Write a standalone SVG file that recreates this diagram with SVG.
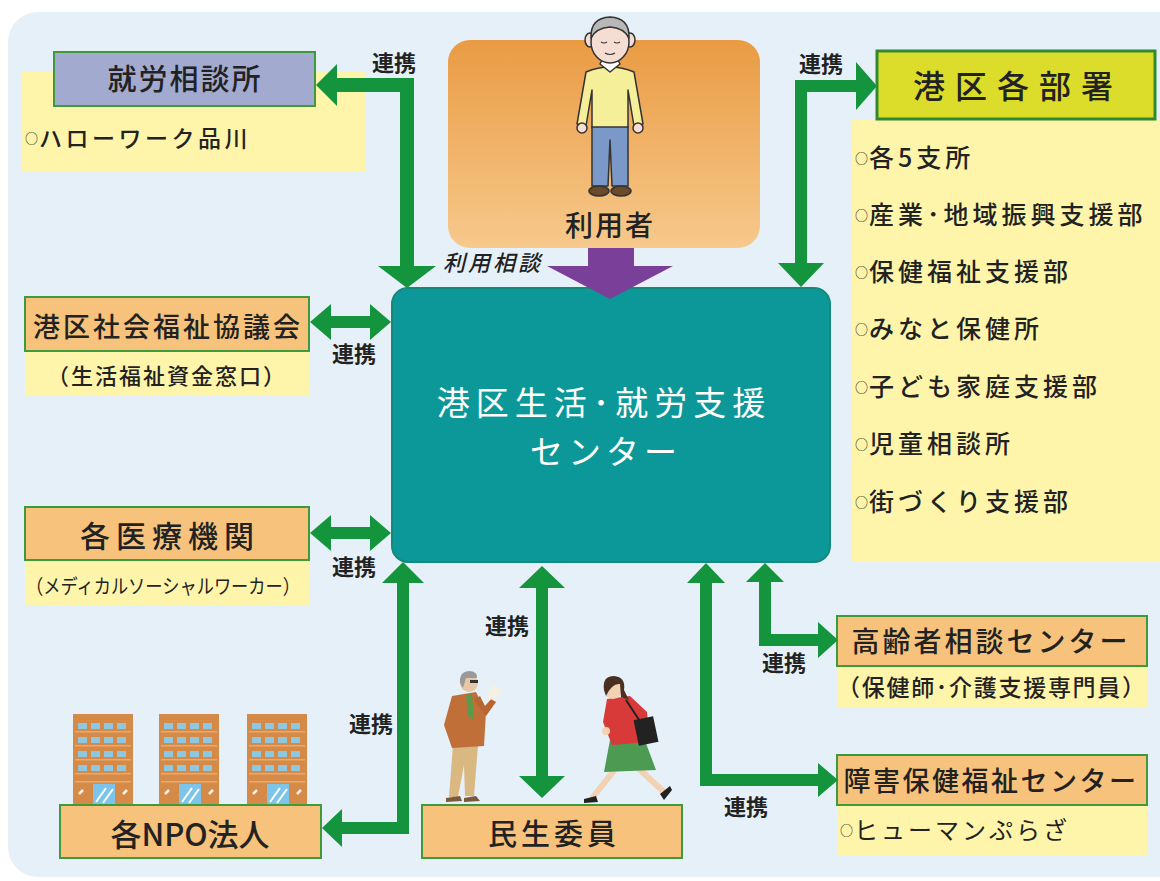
<svg xmlns="http://www.w3.org/2000/svg" width="1160" height="881" viewBox="0 0 1160 881">
  <defs>
    <style>
      text { font-family: "Noto Sans CJK JP", "Noto Sans", sans-serif; fill: #222; }
      .bg { fill: #e6f0f8; }
      .panel { fill: #fff5aa; }
      .box { fill: #f7c27b; stroke: #3f9a3c; stroke-width: 2; }
      .box-blue { fill: #a2aad0; stroke: #3f9a3c; stroke-width: 2; }
      .box-lime { fill: #dcdc2a; stroke: #2f8a30; stroke-width: 3; }
      .link { fill: #14943c; }
      .lbl { font-size: 22px; font-weight: bold; text-anchor: middle; }
      .title { text-anchor: middle; font-weight: 500; }
      .item { font-size: 25px; letter-spacing: 4px; font-weight: 500; }
      .dot { font-size: 13px; letter-spacing: 1px; font-weight: 400; }
      .center-t { fill: #ffffff; font-size: 33px; text-anchor: middle; }
    </style>
    <linearGradient id="userGrad" x1="0" y1="0" x2="0" y2="1">
      <stop offset="0" stop-color="#e99b43"/>
      <stop offset="1" stop-color="#f7c98c"/>
    </linearGradient>
    <!-- one office building, 60 x 90 -->
    <g id="bldg">
      <rect x="0" y="0" width="60" height="90" fill="#d58a48"/>
      <g fill="#e9aa6c">
        <rect x="2" y="17" width="56" height="1.5"/>
        <rect x="2" y="31" width="56" height="1.5"/>
        <rect x="2" y="45" width="56" height="1.5"/>
        <rect x="2" y="59" width="56" height="1.5"/>
        <rect x="2" y="67" width="56" height="1.5"/>
      </g>
      <g fill="#8ec8e0">
        <rect x="5" y="9" width="9" height="6"/><rect x="18" y="9" width="9" height="6"/><rect x="31" y="9" width="9" height="6"/><rect x="44" y="9" width="9" height="6"/>
        <rect x="5" y="23" width="9" height="6"/><rect x="18" y="23" width="9" height="6"/><rect x="31" y="23" width="9" height="6"/><rect x="44" y="23" width="9" height="6"/>
        <rect x="5" y="37" width="9" height="6"/><rect x="18" y="37" width="9" height="6"/><rect x="31" y="37" width="9" height="6"/><rect x="44" y="37" width="9" height="6"/>
        <rect x="5" y="51" width="9" height="6"/><rect x="18" y="51" width="9" height="6"/><rect x="31" y="51" width="9" height="6"/><rect x="44" y="51" width="9" height="6"/>
      </g>
      <rect x="20" y="70" width="22" height="20" fill="#7cc4ea"/>
      <path d="M23,88 L33,74 M30,89 L40,75" stroke="#ffffff" stroke-width="2"/>
      <path d="M6,80 L10,76 M50,80 L54,76" stroke="#f4f4f4" stroke-width="2.5"/>
    </g>
  </defs>

  <!-- backdrop -->
  <rect x="0" y="0" width="1160" height="881" fill="#ffffff"/>
  <rect class="bg" x="8" y="12" width="1180" height="865" rx="30"/>

  <!-- user -->
  <g id="user">
    <rect x="448" y="40" width="312" height="208" rx="22" fill="url(#userGrad)"/>
    <g stroke="#333" stroke-width="1.5" stroke-linejoin="round">
      <path d="M586,72 Q610,62 634,72 L643,124 L634,126 L628,90 L628,128 L592,128 L592,90 L586,126 L577,124 Z" fill="#f6ef9a"/>
      <path d="M600,64 L610,72 L620,64 L618,60 L602,60 Z" fill="#ffffff"/>
      <path d="M592,127 L628,127 L628,186 L612,186 L610,140 L608,186 L592,186 Z" fill="#7a98c8"/>
      <ellipse cx="599" cy="191" rx="10" ry="5" fill="#6b4a2c"/>
      <ellipse cx="621" cy="191" rx="10" ry="5" fill="#6b4a2c"/>
      <circle cx="582" cy="128" r="5" fill="#f6ddd4"/>
      <circle cx="638" cy="128" r="5" fill="#f6ddd4"/>
      <ellipse cx="590" cy="40" rx="5" ry="7" fill="#f6ddd4"/>
      <ellipse cx="630" cy="40" rx="5" ry="7" fill="#f6ddd4"/>
      <ellipse cx="610" cy="42" rx="19" ry="21" fill="#f6ddd4"/>
      <path d="M591,38 Q590,18 610,17 Q630,18 629,38 Q624,28 610,27 Q596,28 591,38 Z" fill="#b8b8b8"/>
      <path d="M601,42 q3,2 6,0 M614,42 q3,2 6,0 M605,53 q5,3 10,0" fill="none" stroke-width="1.2"/>
    </g>
    <text class="title" x="610" y="236" font-size="28" letter-spacing="2">利用者</text>
  </g>

  <!-- support center -->
  <g id="center">
    <rect x="392" y="288" width="438" height="274" rx="16" fill="#0c9898" stroke="#138a7c" stroke-width="2"/>
    <text class="center-t" x="604" y="415" letter-spacing="6">港区生活･就労支援</text>
    <text class="center-t" x="606" y="464" letter-spacing="5">センター</text>
  </g>

  <!-- employment office -->
  <g id="hellowork">
    <rect class="panel" x="22" y="72" width="343" height="100"/>
    <rect class="box-blue" x="54" y="52" width="261" height="54"/>
    <text class="title" x="185" y="90" font-size="29" letter-spacing="2">就労相談所</text>
    <text x="25" y="147" font-size="23" letter-spacing="3.5" font-weight="500"><tspan class="dot" dy="-4">○</tspan><tspan dy="4">ハローワーク品川</tspan></text>
  </g>

  <!-- social welfare council -->
  <g id="shakyo">
    <rect class="panel" x="25" y="351" width="284" height="44"/>
    <rect class="box" x="25" y="297" width="284" height="54"/>
    <text class="title" x="168" y="337" font-size="27" letter-spacing="3">港区社会福祉協議会</text>
    <text class="title" x="167" y="384" font-size="22" letter-spacing="2">（生活福祉資金窓口）</text>
  </g>

  <!-- medical institutions -->
  <g id="medical">
    <rect class="panel" x="25" y="560" width="284" height="45"/>
    <rect class="box" x="25" y="507" width="284" height="53"/>
    <text class="title" x="170" y="547" font-size="30" letter-spacing="6">各医療機関</text>
    <text x="26" y="594" font-size="20" textLength="274" lengthAdjust="spacingAndGlyphs">（メディカルソーシャルワーカー）</text>
  </g>

  <!-- NPOs -->
  <g id="npo">
    <use href="#bldg" x="73" y="714"/>
    <use href="#bldg" x="159" y="714"/>
    <use href="#bldg" x="247" y="714"/>
    <rect class="box" x="60" y="805" width="261" height="53"/>
    <text class="title" x="190" y="846" font-size="31">各NPO法人</text>
  </g>

  <!-- welfare commissioners -->
  <g id="minsei">
    <!-- man reading -->
    <g stroke-linejoin="round">
      <path d="M453,745 L478,745 L474,796 L465,796 L464,765 L458,797 L449,797 Z" fill="#d9b882"/>
      <path d="M446,798 L460,796 L462,801 L446,802 Z M464,798 L476,796 L480,801 L464,802 Z" fill="#7a5a3a"/>
      <path d="M452,696 L476,692 L486,712 L484,746 L452,748 L444,725 Z" fill="#c06f38"/>
      <path d="M466,695 L472,694 L474,720 L468,716 Z" fill="#5a9a4a"/>
      <path d="M474,700 L486,716 L496,702 L492,698 L485,706 L480,696 Z" fill="#b86530"/>
      <rect x="489" y="686" width="10" height="14" fill="#f4f1e4" transform="rotate(25 494 693)"/>
      <circle cx="469" cy="683" r="9" fill="#e8c6a6"/>
      <path d="M460,683 Q459,671 470,671 Q478,672 477,678 L466,678 L463,688 Z" fill="#9a9a9a"/>
      <rect x="470" y="680" width="8" height="3" fill="#333"/>
    </g>
    <!-- walking woman -->
    <g stroke-linejoin="round">
      <path d="M616,768 L593,797 M638,768 L664,792" stroke="#f2d2b2" stroke-width="6" stroke-linecap="round"/>
      <path d="M584,799 L596,796 L598,802 L584,803 Z M660,794 L670,786 L672,790 L664,800 Z" fill="#222"/>
      <path d="M610,740 L644,738 L656,770 L604,772 Z" fill="#4d9a52"/>
      <path d="M607,699 L630,696 L647,712 L650,742 L612,745 L603,722 Z" fill="#d83a3a"/>
      <path d="M626,700 L651,738" stroke="#222" stroke-width="2"/>
      <rect x="636" y="718" width="20" height="26" fill="#222" transform="rotate(-12 646 731)"/>
      <circle cx="613" cy="690" r="9" fill="#f2d2b2"/>
      <path d="M604,690 Q602,676 614,676 Q626,677 624,690 L629,700 L621,697 L620,684 Q612,683 606,696 Z" fill="#4a3022"/>
      <circle cx="606" cy="731" r="4" fill="#f2d2b2"/>
    </g>
    <rect class="box" x="422" y="805" width="260" height="53"/>
    <text class="title" x="554" y="845" font-size="29" letter-spacing="4">民生委員</text>
  </g>

  <!-- ward departments -->
  <g id="depts">
    <rect class="panel" x="852" y="119" width="308" height="443"/>
    <rect class="box-lime" x="877" y="51" width="278" height="68"/>
    <text class="title" x="1018" y="98" font-size="32" letter-spacing="10">港区各部署</text>
    <text class="item" x="855" y="167"><tspan class="dot" dy="-4">○</tspan><tspan dy="4">各5支所</tspan></text>
    <text class="item" x="855" y="224" letter-spacing="4.5"><tspan class="dot" dy="-4">○</tspan><tspan dy="4">産業･地域振興支援部</tspan></text>
    <text class="item" x="855" y="281"><tspan class="dot" dy="-4">○</tspan><tspan dy="4">保健福祉支援部</tspan></text>
    <text class="item" x="855" y="338"><tspan class="dot" dy="-4">○</tspan><tspan dy="4">みなと保健所</tspan></text>
    <text class="item" x="855" y="396"><tspan class="dot" dy="-4">○</tspan><tspan dy="4">子ども家庭支援部</tspan></text>
    <text class="item" x="855" y="453"><tspan class="dot" dy="-4">○</tspan><tspan dy="4">児童相談所</tspan></text>
    <text class="item" x="855" y="511"><tspan class="dot" dy="-4">○</tspan><tspan dy="4">街づくり支援部</tspan></text>
  </g>

  <!-- elderly consultation center -->
  <g id="elderly">
    <rect class="panel" x="837" y="666" width="310" height="41"/>
    <rect class="box" x="837" y="616" width="310" height="50"/>
    <text class="title" x="991" y="652" font-size="28" letter-spacing="3">高齢者相談センター</text>
    <text x="837" y="696" font-size="23" font-weight="500" textLength="308" lengthAdjust="spacing">（保健師･介護支援専門員）</text>
  </g>

  <!-- disability welfare center -->
  <g id="disability">
    <rect class="panel" x="837" y="805" width="310" height="50"/>
    <rect class="box" x="837" y="755" width="310" height="50"/>
    <text class="title" x="991" y="791" font-size="27" letter-spacing="2.5">障害保健福祉センター</text>
    <text x="840" y="839" font-size="24" letter-spacing="3"><tspan class="dot" dy="-4">○</tspan><tspan dy="4">ヒューマンぷらざ</tspan></text>
  </g>

  <!-- connectors -->
  <g id="connectors">
    <!-- 就労相談所 -->
    <polygon class="link" points="316,85 337,64 337,78 414,78 414,266 436,266 407,288 378,266 400,266 400,92 337,92 337,106"/>
    <!-- 港区各部署 -->
    <polygon class="link" points="877,86 856,62 856,80 795,80 795,263 778,263 801,287 824,263 807,263 807,92 856,92 856,110"/>
    <!-- 港区社会福祉協議会 -->
    <polygon class="link" points="310,322 331,304 331,316 370,316 370,304 391,322 370,340 370,328 331,328 331,340"/>
    <!-- 各医療機関 -->
    <polygon class="link" points="310,533 331,515 331,527 370,527 370,515 391,533 370,551 370,539 331,539 331,551"/>
    <!-- 各NPO法人 -->
    <polygon class="link" points="403,562 424,583 409,583 409,834 342,834 342,847 322,828 342,809 342,822 397,822 397,583 382,583"/>
    <!-- 民生委員 -->
    <polygon class="link" points="542,566 565,588 548,588 548,776 565,776 542,798 519,776 536,776 536,588 519,588"/>
    <!-- 障害保健福祉センター -->
    <polygon class="link" points="706,563 725,583 712,583 712,774 818,774 818,763 838,780 818,797 818,786 700,786 700,583 687,583"/>
    <!-- 高齢者相談センター -->
    <polygon class="link" points="765,563 784,582 771,582 771,634 818,634 818,622 838,640 818,658 818,646 759,646 759,582 746,582"/>
    <!-- 利用相談 -->
    <polygon fill="#7a3f98" points="588,248 634,248 634,266 673,266 610,299 547,266 588,266"/>

    <text class="lbl" x="394" y="71">連携</text>
    <text class="lbl" x="821" y="72">連携</text>
    <text class="lbl" x="354" y="362">連携</text>
    <text class="lbl" x="354" y="575">連携</text>
    <text class="lbl" x="371" y="732">連携</text>
    <text class="lbl" x="507" y="634">連携</text>
    <text class="lbl" x="784" y="671">連携</text>
    <text class="lbl" x="746" y="815">連携</text>
    <text x="443" y="271" font-size="22" font-style="italic" letter-spacing="3" font-weight="500">利用相談</text>
  </g>
</svg>
